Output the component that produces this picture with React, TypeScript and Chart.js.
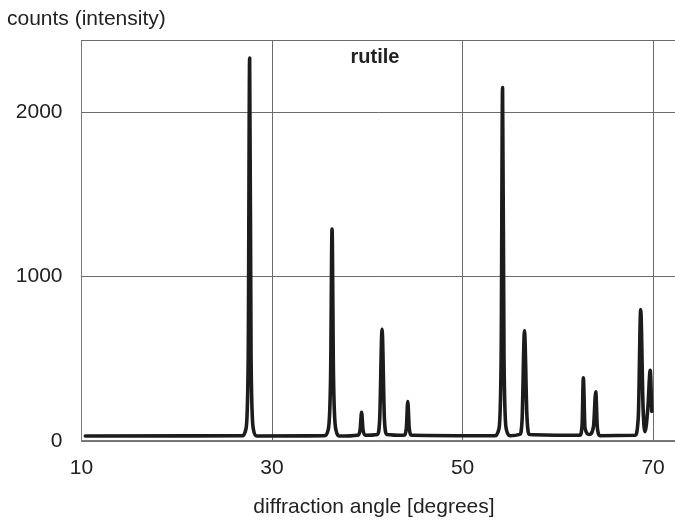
import React, { useEffect, useRef } from "react";
import { Chart, registerables } from "chart.js";

Chart.register(...registerables);

// diffraction angle (degrees) and counts
const angle = [
  10.4, 26.9, 27.25, 27.5, 27.65, 27.8, 28.05, 28.4,
  35.5, 35.9, 36.15, 36.3, 36.45, 36.7, 37.1,
  39.0, 39.25, 39.4, 39.55, 39.8,
  41.05, 41.3, 41.55, 41.8, 42.05,
  43.85, 44.1, 44.25, 44.4, 44.65,
  53.4, 53.8, 54.05, 54.2, 54.35, 54.6, 55.0,
  56.0, 56.25, 56.5, 56.75, 57.0,
  62.3, 62.55, 62.68, 62.85, 63.3,
  63.75, 63.98, 64.15, 64.45,
  68.1, 68.45, 68.7, 68.95, 69.15, 69.45, 69.7, 69.86,
];
const counts = [
  30, 32, 70, 500, 2330, 500, 70, 30,
  32, 70, 400, 1290, 400, 70, 30,
  35, 70, 175, 70, 35,
  40, 130, 680, 130, 40,
  35, 80, 240, 80, 35,
  32, 70, 500, 2150, 500, 70, 32,
  40, 130, 670, 160, 40,
  35, 100, 385, 80, 40,
  90, 300, 80, 32,
  35, 150, 800, 200, 57, 200, 430, 180,
];

const xTicks = [10, 30, 50, 70];
const yTicks = [0, 1000, 2000];
const xMin = 10;
const xMax = 72.3;
const yMin = 0;
const yMax = 2440;

const yTitle = "counts (intensity)";
const xTitle = "diffraction angle [degrees]";
const label = "rutile";
const labelX = 40.8;
const labelY = 2335;

const FONT = "'Liberation Sans', Arial, Helvetica, sans-serif";

export default function App() {
  const ref = useRef<HTMLCanvasElement>(null);

  useEffect(() => {
    document.body.style.margin = "0";
    const canvas = ref.current;
    if (!canvas) return;

    const textPlugin = {
      id: "texts",
      afterDraw(chart: any) {
        const ctx = chart.ctx;
        const { left, right, top } = chart.chartArea;
        ctx.save();
        ctx.strokeStyle = "#6a6a6a";
        ctx.lineWidth = 1;
        ctx.beginPath();
        ctx.moveTo(left, top + 0.5);
        ctx.lineTo(right, top + 0.5);
        ctx.stroke();

        ctx.fillStyle = "#222";
        ctx.textBaseline = "middle";
        ctx.font = `21px ${FONT}`;
        ctx.textAlign = "left";
        ctx.fillText(yTitle, 7, 19);
        ctx.textAlign = "center";
        ctx.fillText(xTitle, 374, 507);
        ctx.font = `bold 20px ${FONT}`;
        const xs = chart.scales.x;
        const ys = chart.scales.y;
        ctx.fillText(label, xs.getPixelForValue(labelX), ys.getPixelForValue(labelY));
        ctx.restore();
      },
    };

    const chart = new Chart(canvas, {
      type: "line",
      data: {
        datasets: [
          {
            data: angle.map((x, i) => ({ x, y: counts[i] })),
            borderColor: "#1c1c1c",
            borderWidth: 3.6,
            pointRadius: 0,
            borderJoinStyle: "round",
            borderCapStyle: "round",
            cubicInterpolationMode: "monotone",
            fill: false,
          },
        ],
      },
      options: {
        animation: false,
        responsive: false,
        layout: { padding: { top: 40, right: 0, left: 0, bottom: 0 } },
        plugins: {
          legend: { display: false },
          tooltip: { enabled: false },
        },
        scales: {
          x: {
            type: "linear",
            min: xMin,
            max: xMax,
            afterBuildTicks: (s: any) => {
              s.ticks = xTicks.map((v) => ({ value: v }));
            },
            afterFit: (s: any) => {
              s.height = 79;
              s.paddingRight = 0;
              s.paddingLeft = 0;
            },
            grid: { color: "#6a6a6a", lineWidth: 1, drawTicks: false },
            border: { display: true, color: "#7a7a7a", width: 1.5 },
            ticks: {
              color: "#222",
              font: { family: FONT, size: 21 },
              padding: 15,
              maxRotation: 0,
              autoSkip: false,
              callback: (v: any) => String(v),
            },
          },
          y: {
            type: "linear",
            min: yMin,
            max: yMax,
            afterBuildTicks: (s: any) => {
              s.ticks = yTicks.map((v) => ({ value: v }));
            },
            afterFit: (s: any) => {
              s.width = 81.5;
            },
            grid: { color: "#6a6a6a", lineWidth: 1, drawTicks: false },
            border: { display: true, color: "#7a7a7a", width: 1 },
            ticks: {
              color: "#222",
              font: { family: FONT, size: 21 },
              padding: 19,
              callback: (v: any) => String(v),
            },
          },
        },
      },
      plugins: [textPlugin],
    } as any);

    return () => chart.destroy();
  }, []);

  return (
    <div style={{ width: 675, height: 520 }}>
      <canvas ref={ref} width={675} height={520} style={{ display: "block" }} />
    </div>
  );
}
